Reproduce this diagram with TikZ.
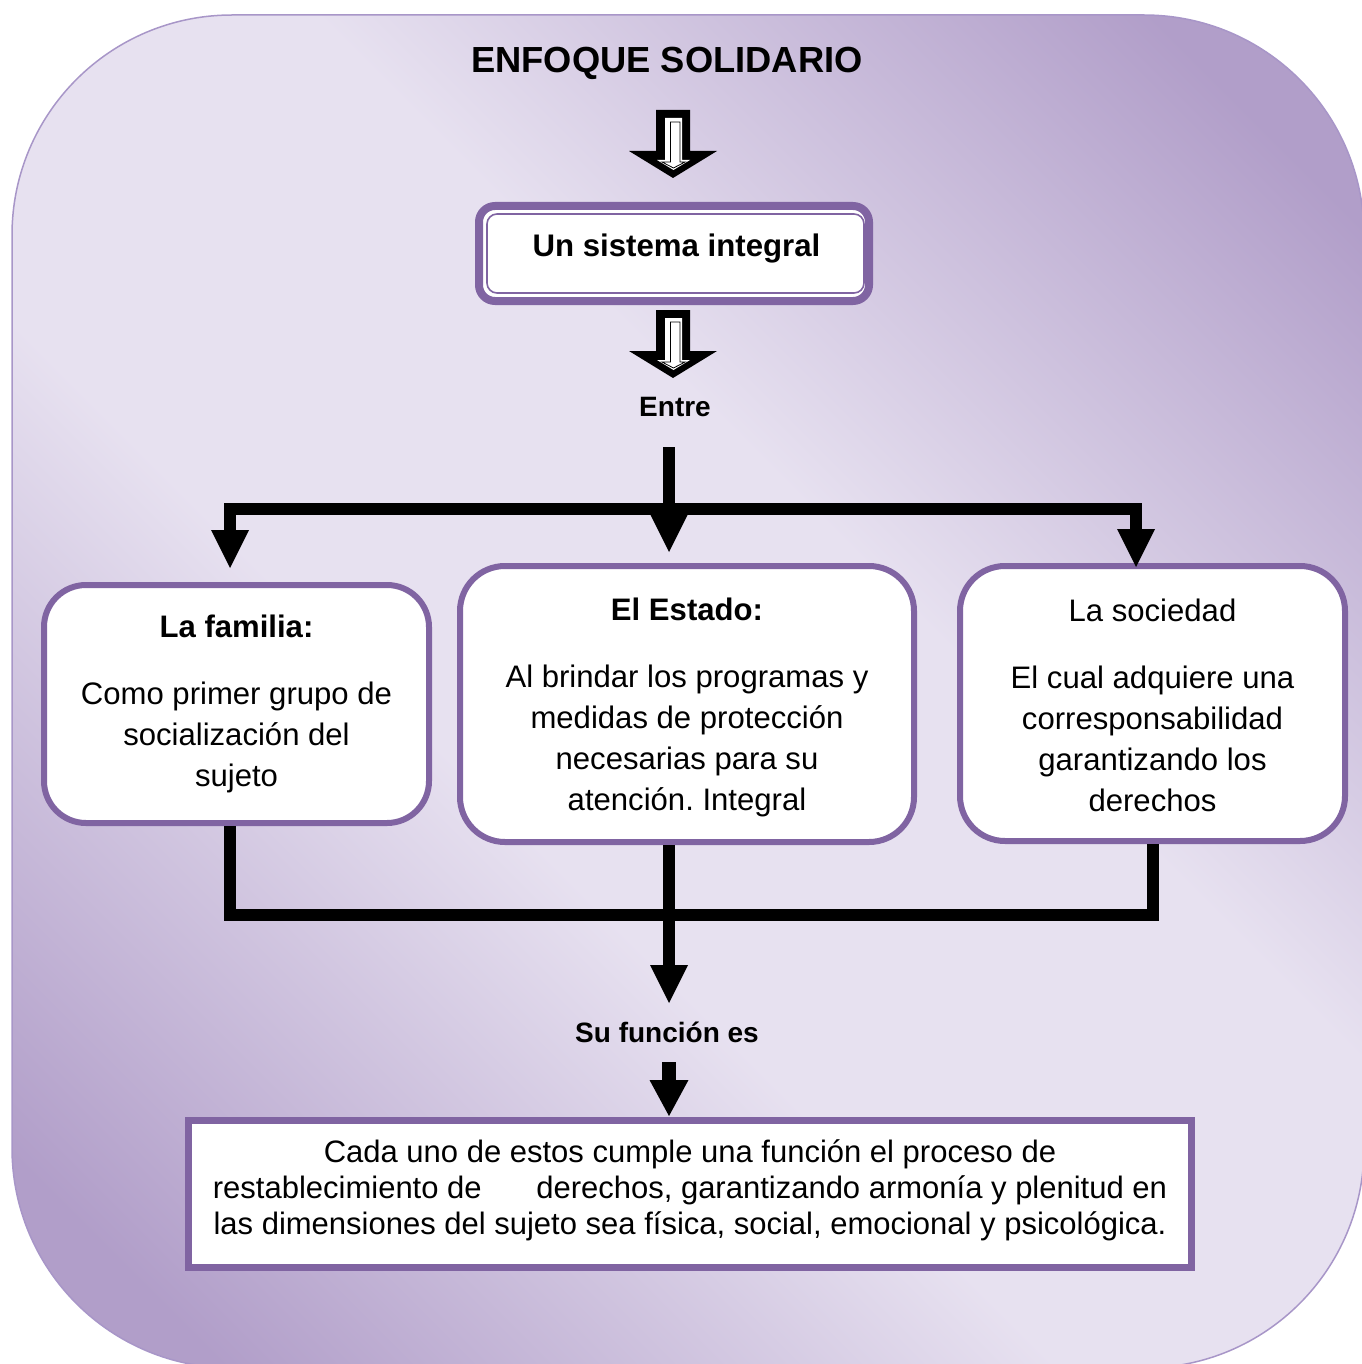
\documentclass[tikz,border=0pt]{standalone}
\usepackage{fontspec}
\setmainfont{Liberation Sans}
\usetikzlibrary{arrows.meta}
\definecolor{boxpurple}{RGB}{128,100,162}
\definecolor{bgdark}{RGB}{177,158,201}
\definecolor{bglight}{RGB}{231,225,240}
\definecolor{bgedge}{RGB}{168,150,200}
\pgfdeclarehorizontalshading{bgshade}{100bp}{color(0bp)=(bgdark); color(20bp)=(bgdark); color(42bp)=(bglight); color(58bp)=(bglight); color(80bp)=(bgdark); color(100bp)=(bgdark)}
\frenchspacing
\tikzset{
  conn/.style={line width=12pt, line join=miter, draw=black},
  tipA/.style={-{Triangle[width=38pt,length=38pt,line width=0pt]}},
  rbox/.style={draw=boxpurple, line width=6pt, fill=white, rounded corners=42pt,
    inner sep=0pt, align=center, font=\fontsize{31.1}{41}\selectfont},
  lbl/.style={font=\bfseries\fontsize{28}{32}\selectfont, inner sep=0pt, anchor=base},
  pics/hollowarrow/.style={code={
    \fill[black] (-17,0) -- (17,0) -- (17,41) -- (44,41) -- (0,68) -- (-44,41) -- (-17,41) -- cycle;
    \fill[white] (-8,8) -- (9,8) -- (9,50) -- (17,50) -- (0.5,60) -- (-16,50) -- (-8,50) -- cycle;
    \draw[black, line width=0.8pt] (-2.5,12) -- (7,12) -- (7,52) -- (12,52) -- (0.5,58) -- (-11,52) -- (-2.5,52) -- cycle;
  }}
}
\begin{document}
\begin{tikzpicture}[x=1pt,y=-1pt]
\useasboundingbox (0,0) rectangle (1361,1364);
% background
\path[draw=bgedge, line width=1.5pt, rounded corners=220pt, shading=bgshade, shading angle=45]
  (12,15) rectangle (1364,1368);
% title
\node[font=\bfseries\fontsize{36.3}{40}\selectfont, inner sep=0pt, anchor=base] (title) at (667,73) {ENFOQUE SOLIDARIO};
\pic (arrA) at (673,110) {hollowarrow};
% sistema integral
\node[draw=boxpurple, line width=8pt, fill=white, rounded corners=16pt,
  minimum width=390pt, minimum height=95pt, inner sep=0pt] (sis) at (674,253.5) {};
\draw[boxpurple, line width=1.6pt, rounded corners=10pt] (487,214) rectangle (864,293);
\node[font=\bfseries\fontsize{31.2}{35}\selectfont, inner sep=0pt, anchor=base] (sistxt) at (676.5,257) {Un sistema integral};
\pic (arrB) at (673,310) {hollowarrow};
\node[lbl] (entre) at (675,416) {Entre};
\coordinate (stem) at (669,447);
\coordinate (split) at (669,509);
% boxes
\node[rbox, minimum width=385pt, minimum height=238pt] (fam) at (236.5,704)
  {\textbf{La familia:}\\[26pt]Como primer grupo de\\socialización del\\sujeto};
\node[rbox, rounded corners=45pt, minimum width=454pt, minimum height=276pt] (est) at (687,704)
  {\rule{0pt}{30pt}\textbf{El Estado:}\\[26pt]Al brindar los programas y\\medidas de protección\\necesarias para su\\atención. Integral};
\node[rbox, rounded corners=45pt, minimum width=385pt, minimum height=275pt] (soc) at (1152.5,703.5)
  {\rule{0pt}{26pt}La sociedad\\[26pt]El cual adquiere una\\corresponsabilidad\\garantizando los\\derechos};
% top connectors
\draw[conn] (stem) -- (split);
\draw[conn, tipA] (split) -| ([xshift=-6.5pt,yshift=14pt]fam.north);
\draw[conn, tipA] (split) -- ([xshift=-18pt,yshift=11pt]est.north);
\draw[conn, tipA] (split) -| ([xshift=-16.5pt,yshift=-4pt]soc.north);
% bottom connectors
\coordinate (merge) at (669,915);
\coordinate (fupper) at (669,1003);
\draw[conn] ([xshift=-6.5pt]fam.south) |- (merge);
\draw[conn] ([xshift=0.5pt]soc.south) |- (merge);
\draw[conn, tipA] ([xshift=-18pt]est.south) -- (fupper);
\node[lbl] (func) at (667,1042) {Su función es};
\coordinate (flower) at (669,1062);
% final box
\node[draw=boxpurple, line width=7pt, fill=white, minimum width=1003pt, minimum height=147pt,
  inner sep=0pt] (fin) at (690,1194) {};
\node[font=\fontsize{31}{36}\selectfont, align=center, inner sep=0pt] (fintxt) at (690,1190)
  {Cada uno de estos cumple una función el proceso de\\restablecimiento de\hspace{46pt} derechos, garantizando armonía y plenitud en\\las dimensiones del sujeto sea física, social, emocional y psicológica.};
\draw[line width=14pt, -{Triangle[width=39pt,length=36pt,line width=0pt]}, shorten >=1pt] (flower) -- (flower |- fin.north);
\end{tikzpicture}
\end{document}
